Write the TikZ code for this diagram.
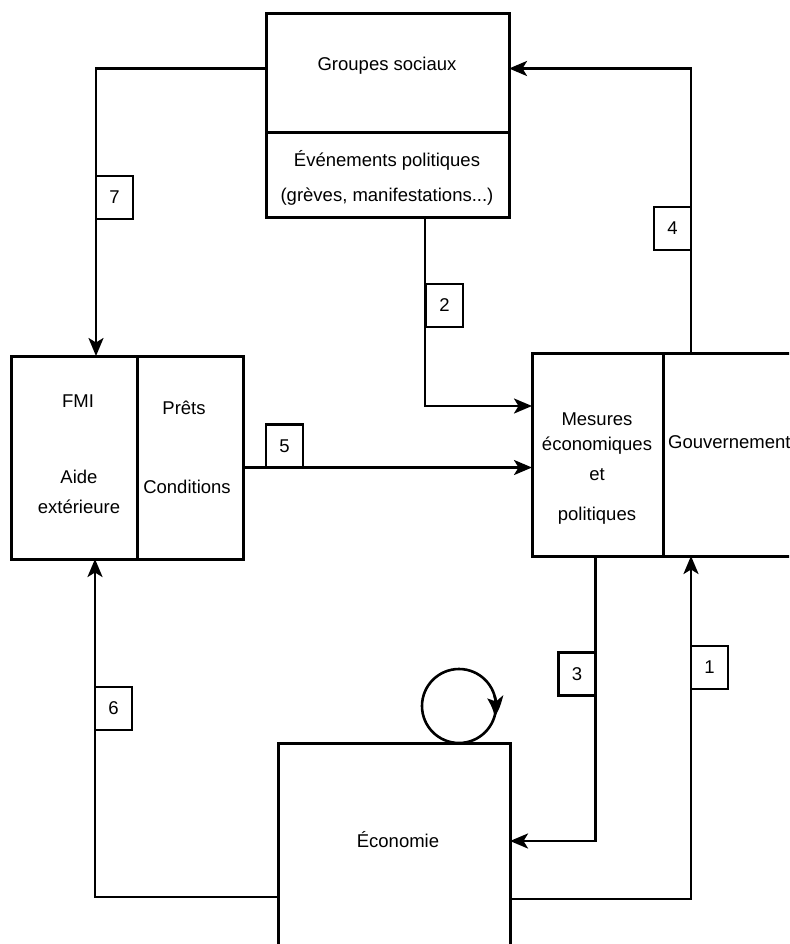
\documentclass[tikz,border=0pt]{standalone}
\usepackage{fontspec}
\setmainfont{Liberation Sans}
\usetikzlibrary{arrows.meta,bending}
\begin{document}
\begin{tikzpicture}[x=1pt,y=1pt,
  box/.style={draw,line width=3pt,inner sep=0pt,outer sep=0pt},
  lbl/.style={font=\fontsize{18.5}{22}\selectfont,inner sep=0pt,anchor=base},
  numbox/.style={draw,line width=2.8pt,fill=white,minimum width=37pt,minimum height=43pt,inner sep=0pt,outer sep=0pt,font=\fontsize{18.5}{22}\selectfont},
  conn/.style={line width=2.6pt},
  arr/.style={conn,-{Stealth[length=18pt,width=15pt,inset=4.5pt]}}]
\useasboundingbox (0,0) rectangle (789,-944);
\clip (0,0) rectangle (789,-944);
\fill[white] (0,0) rectangle (789,-944);
% main boxes
\node[box,minimum width=243pt,minimum height=119pt] (grp) at (387.5,-73.5) {};
\node[box,minimum width=243pt,minimum height=84pt] (evt) at (387.5,-175) {};
\node[box,minimum width=126pt,minimum height=203pt] (fmi) at (74,-457.5) {};
\node[box,minimum width=106pt,minimum height=203pt] (prets) at (190,-457.5) {};
\node[box,minimum width=131pt,minimum height=203pt] (mes) at (597.5,-454.5) {};
\node[box,minimum width=137pt,minimum height=203pt] (gouv) at (731.5,-454.5) {};
\node[box,minimum width=232pt,minimum height=217pt] (eco) at (394,-851.5) {};
\node[box,line width=2.6pt,circle,minimum size=74pt] (loop) at (459,-706) {};
% texts
\node[lbl] (tgrp) at (387,-71) {Groupes sociaux};
\node[lbl] (tevt1) at (387,-167) {Événements politiques};
\node[lbl] (tevt2) at (387,-201) {(grèves, manifestations...)};
\node[lbl] (tfmi) at (78,-407) {FMI};
\node[lbl] (taide) at (79,-483) {Aide};
\node[lbl] (texter) at (79,-513) {extérieure};
\node[lbl] (tprets) at (184,-414) {Prêts};
\node[lbl] (tcond) at (187,-493) {Conditions};
\node[lbl] (tmes1) at (597,-425) {Mesures};
\node[lbl] (tmes2) at (597,-450) {économiques};
\node[lbl] (tmes3) at (597,-480) {et};
\node[lbl] (tmes4) at (597,-520) {politiques};
\node[lbl,anchor=base west] (tgouv) at (668,-448) {Gouvernement};
\node[lbl] (teco) at (398,-847) {Économie};
% connectors
\draw[arr] ([yshift=5pt]grp.west) -| ([xshift=22pt]fmi.north);
\draw[arr] ([xshift=37.5pt]evt.south) |- ([yshift=48.5pt]mes.west);
\draw[arr] ([yshift=-10pt]prets.east) -- ([yshift=-10pt]prets.east -| mes.west);
\draw[arr] ([xshift=28pt]mes.north east) |- ([yshift=5pt]grp.east);
\draw[arr] ([xshift=-2pt]mes.south) |- ([yshift=10.5pt]eco.east);
\draw[arr] ([yshift=-47.5pt]eco.east) -| ([xshift=28pt]mes.south east);
\draw[arr] ([yshift=-45.5pt]eco.west) -| ([xshift=21pt]fmi.south);
\draw[conn,-{Stealth[length=20pt,width=16pt,inset=4.5pt,bend]}] (loop.16) arc[start angle=16, end angle=-17, radius=37pt];
% number boxes
\node[numbox] (n7) at (114.5,-197.5) {7};
\node[numbox] (n2) at (444.5,-305.5) {2};
\node[numbox] (n4) at (672.5,-228.5) {4};
\node[numbox] (n5) at (284.5,-446) {5};
\node[numbox] (n3) at (577,-674) {3};
\node[numbox] (n1) at (709.5,-667.5) {1};
\node[numbox] (n6) at (113.5,-708.5) {6};
\end{tikzpicture}
\end{document}
